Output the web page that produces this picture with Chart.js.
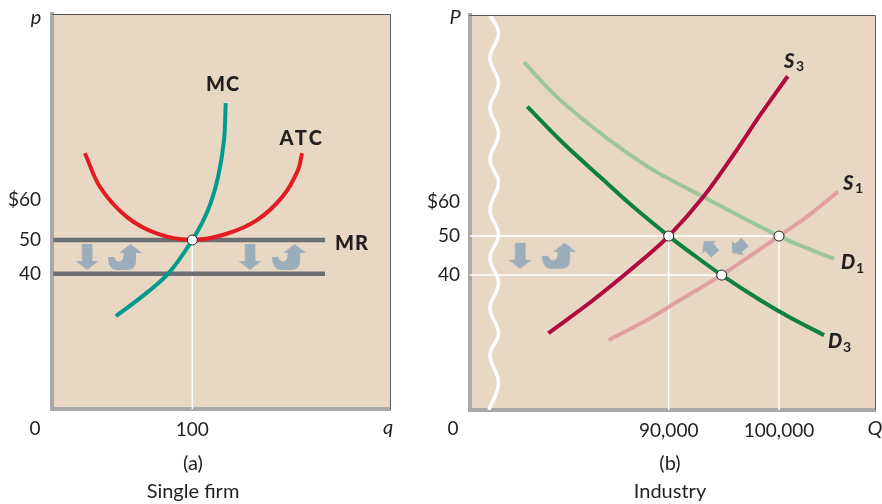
<!DOCTYPE html>
<html>
<head>
<meta charset="utf-8">
<script src="https://cdn.jsdelivr.net/npm/chart.js@4"></script>
<style>
  html, body { margin: 0; background: #fff; }
  canvas { position: absolute; top: 0; }
  #firm { left: 0; }
  #industry { left: 420px; }
</style>
</head>
<body>
<canvas id="firm" width="420" height="504"></canvas>
<canvas id="industry" width="462" height="504"></canvas>
<script>
"use strict";

// (a) single firm
var firmTickX = [100];
var firmTickXLabels = ['100'];
var firmTickY = [40, 50, 62]; // $60 is drawn above its true height in the original
var firmTickYLabels = ['40', '50', '$60'];

var mcX = [45.6, 62.7, 82.7, 100, 111.2, 118.3, 122.6, 123.8];
var mcY = [27.5, 32.8, 40, 50, 58.9, 68.6, 79.6, 90.5];

var atcX = [23.5, 34.2, 53.5, 75.6, 100, 124, 146.1, 164.6, 175.3, 178.2];
var atcY = [75.7, 65.7, 56.8, 51.8, 50, 51.8, 55.9, 63, 70.7, 75.7];

var mrX = [1, 194.6];
var mrHighY = [50, 50];
var mrLowY = [40, 40];

var firmPointX = [100];
var firmPointY = [50];
var firmDownX = [24.9, 141];
var firmDownY = [45, 45];
var firmCurlX = [52, 169];
var firmCurlY = [45, 45];

// (b) industry
var indTickX = [90000, 100000];
var indTickXLabels = ['90,000', '100,000'];
var indTickY = [40, 50, 58.7];
var indTickYLabels = ['40', '50', '$60'];

var d1X = [76880, 79850, 82870, 85860, 88910, 92840, 96460, 100000, 102510, 105010];
var d1Y = [94.6, 85.7, 78.5, 72.1, 66.4, 60.5, 55.1, 50, 46.9, 44.2];

var d3X = [77180, 80445, 83770, 86790, 90000, 92385, 94800, 98280, 100997, 104080];
var d3Y = [83.2, 73.8, 65.2, 57.5, 50, 44.9, 40, 33.6, 29.1, 24.6];

var s3X = [79090, 83165, 87400, 90000, 93140, 95860, 98280, 100790];
var s3Y = [25.1, 33.6, 43.4, 50, 60.1, 70.8, 81, 91];

var s1X = [84540, 88030, 91025, 94800, 97370, 100000, 102540, 105350];
var s1Y = [23.3, 28.5, 33.6, 40, 44.9, 50, 55, 61.4];

// white break in the quantity axis
var breakX = [73800, 74570, 73800, 74570, 73800, 74570, 73800, 74570, 73800, 74570, 73800, 74570, 73800, 74570, 73800, 74570, 73700];
var breakY = [106.7, 102, 95.6, 89.2, 82.8, 76.4, 69.5, 63.8, 56.7, 50.3, 44.4, 37.9, 31.5, 25.1, 19.5, 12.3, 5.4];

var indPointX = [90000, 100000, 94800];
var indPointY = [50, 50, 40];
var indDownX = [76520];
var indDownY = [44.95];
var indCurlX = [80055];
var indCurlY = [44.95];
var indLeftUpX = [93700];
var indLeftUpY = [47.05];
var indLeftDownX = [96330];
var indLeftDownY = [47.05];

var beige = '#E8D8C3';
var axisGray = '#A7A9AC';
var arrowBlue = '#9BACBB';
var inkColor = '#231F20';

function zip(xs, ys) {
    return xs.map(function(x, i) {
        return { x: x, y: ys[i] };
    });
}

function sprite(w, h, path) {
    var c = document.createElement('canvas');
    c.width = w;
    c.height = h;
    var g = c.getContext('2d');
    g.fillStyle = arrowBlue;
    g.translate(1, 1);
    g.beginPath();
    path(g);
    g.closePath();
    g.fill();
    return c;
}

var downArrow = sprite(25, 28, function(g) {
    g.moveTo(6.5, 0); g.lineTo(17, 0); g.lineTo(17, 17); g.lineTo(23, 17);
    g.lineTo(11.7, 26); g.lineTo(0, 17); g.lineTo(6.5, 17);
});

var curlArrow = sprite(36, 28, function(g) {
    g.moveTo(22.5, 0); g.lineTo(34, 9); g.lineTo(28, 9); g.lineTo(28, 17);
    g.quadraticCurveTo(28, 26, 18, 26); g.lineTo(10, 26);
    g.quadraticCurveTo(0, 26, 0, 13); g.lineTo(6, 13);
    g.quadraticCurveTo(8, 17.5, 11, 17.5); g.quadraticCurveTo(15, 17.5, 15.5, 12);
    g.lineTo(15.5, 9); g.lineTo(11, 9);
});

var smallArrow = sprite(21, 19, function(g) {
    g.moveTo(9.5, 0); g.lineTo(19, 8); g.lineTo(15, 8); g.lineTo(15, 17);
    g.lineTo(4, 17); g.lineTo(4, 8); g.lineTo(0, 8);
});

function curve(xs, ys, color) {
    return {
        data: zip(xs, ys), showLine: true, borderColor: color, borderWidth: 4,
        pointRadius: 0, tension: 0.33
    };
}

function straight(xs, ys, color, width) {
    return { data: zip(xs, ys), showLine: true, borderColor: color, borderWidth: width, pointRadius: 0 };
}

function marks(xs, ys, style, rotation) {
    return { data: zip(xs, ys), pointStyle: style, pointRotation: rotation || 0, pointRadius: 10, showLine: false };
}

function openPoints(xs, ys) {
    return {
        data: zip(xs, ys), showLine: false, pointRadius: 5, pointStyle: 'circle',
        pointBackgroundColor: '#fff', pointBorderColor: inkColor, pointBorderWidth: 1
    };
}

// panel fill, frame and all the loose labels
var panelPlugin = {
    id: 'panel',
    beforeDraw: function(chart) {
        var a = chart.chartArea, ctx = chart.ctx;
        ctx.save();
        ctx.fillStyle = beige;
        ctx.fillRect(a.left, a.top, a.right - a.left, a.bottom - a.top);
        ctx.restore();
    },
    afterDraw: function(chart, args, opts) {
        var a = chart.chartArea, ctx = chart.ctx;
        ctx.save();
        ctx.strokeStyle = '#58595B';
        ctx.lineWidth = 1;
        ctx.beginPath();
        ctx.moveTo(a.left, a.top + 0.5);
        ctx.lineTo(a.right + 0.5, a.top + 0.5);
        ctx.lineTo(a.right + 0.5, a.bottom);
        ctx.stroke();
        ctx.fillStyle = inkColor;
        ctx.textBaseline = 'alphabetic';
        opts.notes.forEach(function(n) {
            ctx.font = n[3];
            ctx.textAlign = n[4] || 'center';
            ctx.letterSpacing = n[5] || '0px';
            ctx.fillText(n[0], n[1], n[2]);
        });
        ctx.restore();
    }
};

function axes(xMin, xMax, yMin, yMax, tickX, tickXLabels, tickY, tickYLabels, yWidth, yPad, xHeight) {
    return {
        x: {
            type: 'linear', min: xMin, max: xMax, z: 1,
            grid: { display: false, drawTicks: false },
            border: { color: axisGray, width: 4 },
            afterBuildTicks: function(s) { s.ticks = tickX.map(function(v) { return { value: v }; }); },
            afterFit: function(s) { s.height = xHeight; s.paddingLeft = 0; s.paddingRight = 0; },
            ticks: {
                autoSkip: false, maxRotation: 0, padding: 9, color: inkColor,
                font: { family: 'Lato', size: 19 },
                callback: function(v) { return tickXLabels[tickX.indexOf(v)]; }
            }
        },
        y: {
            type: 'linear', min: yMin, max: yMax, z: 1,
            grid: { display: false, drawTicks: false },
            border: { color: axisGray, width: 4 },
            afterBuildTicks: function(s) { s.ticks = tickY.map(function(v) { return { value: v }; }); },
            afterFit: function(s) { s.width = yWidth; s.paddingTop = 0; s.paddingBottom = 0; },
            ticks: {
                autoSkip: false, padding: yPad, color: inkColor,
                font: { family: 'Lato', size: 19 },
                callback: function(v) { return tickYLabels[tickY.indexOf(v)]; }
            }
        }
    };
}

var sans = 'Lato';
var labelBold = '900 20px ' + sans;
var labelItalic = 'italic 20px ' + sans;
var tickFont = '19px ' + sans;
var captionFont = '20px ' + sans;
var nameFont = 'italic 900 20px ' + sans;
var subFont = 'bold 14px ' + sans;

new Chart(document.getElementById('firm'), {
    type: 'scatter',
    data: {
        datasets: [
            openPoints(firmPointX, firmPointY),
            curve(mcX, mcY, '#009B8E'),
            curve(atcX, atcY, '#E31B23'),
            straight(mrX, mrHighY, '#6D6E71', 4.5),
            straight(mrX, mrLowY, '#6D6E71', 4.5),
            straight(firmPointX.concat(firmPointX), [0, 50], '#fff', 1.5),
            marks(firmDownX, firmDownY, downArrow),
            marks(firmCurlX, firmCurlY, curlArrow)
        ]
    },
    options: {
        responsive: false,
        animation: false,
        layout: { autoPadding: false, padding: { left: 0, top: 14, right: 30, bottom: 0 } },
        scales: axes(0, 240.9, 0, 116.9, firmTickX, firmTickXLabels, firmTickY, firmTickYLabels, 52, 11, 95),
        plugins: {
            legend: { display: false },
            tooltip: { enabled: false },
            panel: {
                notes: [
                    ['MC', 223, 91, labelBold, 'center', '1px'],
                    ['ATC', 302, 145, labelBold, 'center', '2.5px'],
                    ['MR', 352, 250, labelBold, 'center', '1px'],
                    ['p', 36, 24, labelItalic],
                    ['q', 388, 434, labelItalic],
                    ['0', 35, 435, tickFont],
                    ['(a)', 193, 470, captionFont],
                    ['Single firm', 193, 498, captionFont]
                ]
            }
        }
    },
    plugins: [panelPlugin]
});

new Chart(document.getElementById('industry'), {
    type: 'scatter',
    data: {
        datasets: [
            openPoints(indPointX, indPointY),
            curve(d3X, d3Y, '#0F8040'),
            curve(s3X, s3Y, '#B00A3E'),
            curve(d1X, d1Y, '#9DC49D'),
            curve(s1X, s1Y, '#E0A0A2'),
            straight([71940, 100000], [50, 50], '#fff', 1.5),
            straight([71940, 94800], [40, 40], '#fff', 1.5),
            straight([90000, 90000], [5.4, 50], '#fff', 1.5),
            straight([100000, 100000], [5.4, 50], '#fff', 1.5),
            { data: zip(breakX, breakY), showLine: true, borderColor: '#fff', borderWidth: 3.5, pointRadius: 0, tension: 0.4 },
            marks(indDownX, indDownY, downArrow),
            marks(indCurlX, indCurlY, curlArrow),
            marks(indLeftUpX, indLeftUpY, smallArrow, -42),
            marks(indLeftDownX, indLeftDownY, smallArrow, -130)
        ]
    },
    options: {
        responsive: false,
        animation: false,
        layout: { autoPadding: false, padding: { left: 0, top: 15, right: 7, bottom: 0 } },
        scales: axes(71940, 108700, 5.4, 106.7, indTickX, indTickXLabels, indTickY, indTickYLabels, 49.5, 9.5, 94),
        plugins: {
            legend: { display: false },
            tooltip: { enabled: false },
            panel: {
                notes: [
                    ['S', 364, 68, nameFont, 'left'],
                    ['3', 376, 71, subFont, 'left'],
                    ['S', 423, 190, nameFont, 'left'],
                    ['1', 435, 193, subFont, 'left'],
                    ['D', 421, 269, nameFont, 'left'],
                    ['1', 436, 273, subFont, 'left'],
                    ['D', 408, 348, nameFont, 'left'],
                    ['3', 423, 352, subFont, 'left'],
                    ['P', 35, 24, labelItalic],
                    ['Q', 455, 435, labelItalic],
                    ['0', 33, 435, tickFont],
                    ['(b)', 250, 470, captionFont],
                    ['Industry', 250, 498, captionFont]
                ]
            }
        }
    },
    plugins: [panelPlugin]
});
</script>
</body>
</html>
